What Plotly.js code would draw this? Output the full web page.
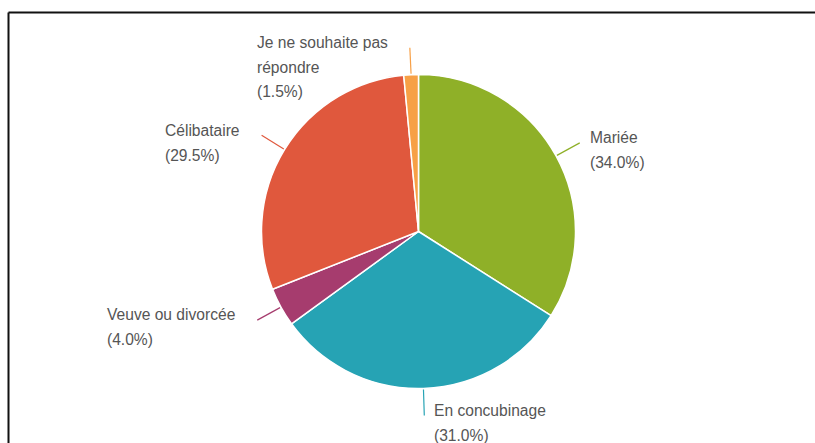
<!DOCTYPE html>
<html>
<head>
<meta charset="utf-8">
<script src="https://cdn.plot.ly/plotly-3.0.1.min.js"></script>
<style>html,body{margin:0;padding:0;background:#fff;}#chart{width:815px;height:443px;}</style>
</head>
<body>
<div id="chart"></div>
<script>
// ---- data ----
const categories = ["Mariée", "En concubinage", "Veuve ou divorcée", "Célibataire", "Je ne souhaite pas<br>répondre"];
const shares = [34.0, 31.0, 4.0, 29.5, 1.5];
const colors = ["#8fb028", "#26a3b4", "#a63c6e", "#e0583d", "#f7a046"];

// ---- layout params ----
const W = 815, H = 443;
const cx = 418.5, cy = 231.5, R = 157;
const connLen = 27, gapR = 8, gapL = 20, lineGap = 24.5;
const textFont = {family: "Liberation Sans, Arial, sans-serif", size: lineGap / 1.3, color: "#555"};
const glyphSize = 15.6;

const px = x => x / W;
const py = y => 1 - y / H;

const total = shares.reduce((a, b) => a + b, 0);
const shapes = [];
const annotations = [];
let cum = 0;
shares.forEach((v, i) => {
  const mid = (cum + v / 2) / total * 2 * Math.PI;
  cum += v;
  const s = Math.sin(mid), c = Math.cos(mid);
  const x0 = cx + (R + 1) * s, y0 = cy - (R + 1) * c;
  const x1 = cx + (R + connLen) * s, y1 = cy - (R + connLen) * c;
  shapes.push({type: "line", xref: "paper", yref: "paper",
    x0: px(x0), y0: py(y0), x1: px(x1), y1: py(y1),
    line: {color: colors[i], width: 1.2}});
  const lines = categories[i].split("<br>").concat(["(" + v.toFixed(1) + "%)"]);
  const right = s >= 0;
  const firstY = y1 - 5;
  const centerY = firstY + (lines.length - 1) * lineGap / 2;
  annotations.push({
    xref: "paper", yref: "paper",
    x: px(right ? x1 + gapR : x1 - gapL), y: py(centerY),
    xanchor: right ? "left" : "right", yanchor: "middle", align: "left",
    showarrow: false,
    text: lines.map(l => '<span style="font-size:' + glyphSize + 'px">' + l + '</span>').join("<br>"),
    font: textFont
  });
});

// frame lines of the original screenshot
shapes.push({type: "line", xref: "paper", yref: "paper", x0: px(8.5), y0: py(12.5), x1: 1.01, y1: py(12.5), line: {color: "#111", width: 2}});
shapes.push({type: "line", xref: "paper", yref: "paper", x0: px(8.5), y0: py(12.5), x1: px(8.5), y1: -0.01, line: {color: "#111", width: 2}});

const trace = {
  type: "pie",
  labels: categories,
  values: shares,
  marker: {colors: colors, line: {color: "#ffffff", width: 1.5}},
  sort: false,
  direction: "clockwise",
  rotation: 0,
  textinfo: "none",
  hoverinfo: "label+percent",
  domain: {x: [px(cx - R), px(cx + R)], y: [py(cy + R), py(cy - R)]},
  showlegend: false
};

const layout = {
  width: W, height: H,
  margin: {l: 0, r: 0, t: 0, b: 0},
  paper_bgcolor: "#ffffff",
  showlegend: false,
  shapes: shapes,
  annotations: annotations
};

Plotly.newPlot("chart", [trace], layout, {displayModeBar: false, staticPlot: true});
</script>
</body>
</html>
